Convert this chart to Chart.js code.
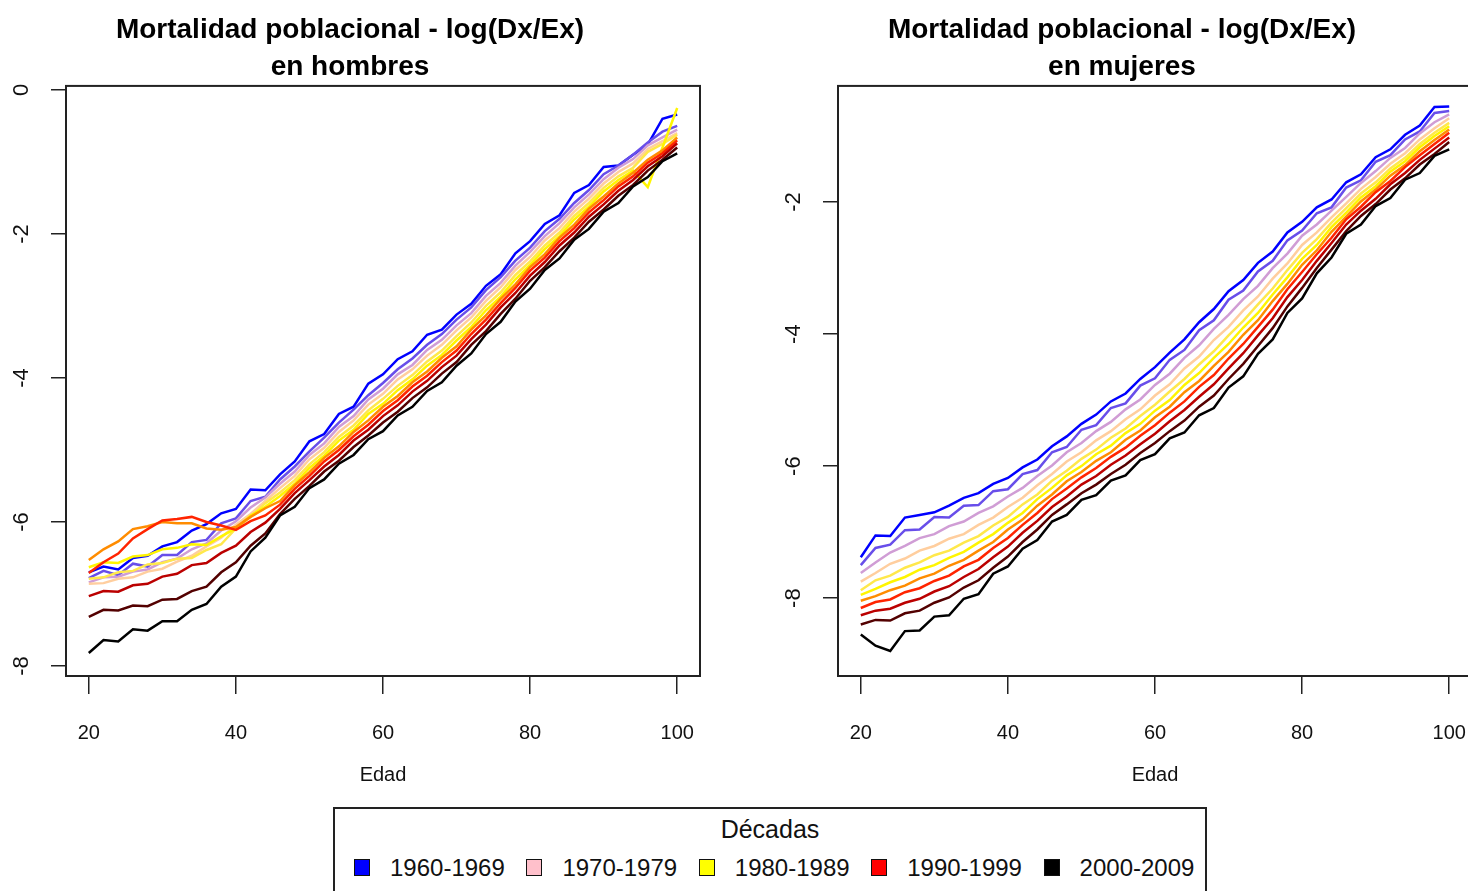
<!DOCTYPE html>
<html>
<head>
<meta charset="utf-8">
<script src="https://cdn.jsdelivr.net/npm/chart.js"></script>
<style>
  body { margin: 0; width: 1468px; height: 891px; overflow: hidden; background: #fff; position: relative; }
  #hombres { position: absolute; left: 0; top: 0; }
  #mujeres { position: absolute; left: 772px; top: 0; }
  #leyenda {
    position: absolute; left: 333px; top: 807px; width: 870px; height: 110px;
    border: 2px solid #222; font-family: "Liberation Sans", Arial, sans-serif; color: #111;
  }
  #leyenda .titulo { position: absolute; left: 0; width: 100%; top: 6px; text-align: center; font-size: 25px; }
  #leyenda .item { position: absolute; top: 44px; font-size: 24px; line-height: 30px; }
  #leyenda .caja { position: absolute; left: 0; top: 6px; width: 14px; height: 15px; border: 1px solid #111; }
  #leyenda .txt { position: absolute; left: 36px; top: 0; white-space: nowrap; }
</style>
</head>
<body>
<canvas id="hombres" width="764" height="800"></canvas>
<canvas id="mujeres" width="766" height="800"></canvas>
<div id="leyenda"></div>
<script>
const edades = [20,22,24,26,28,30,32,34,36,38,40,42,44,46,48,50,52,54,56,58,60,62,64,66,68,70,72,74,76,78,80,82,84,86,88,90,92,94,96,98,100];
const anios = [1960,1965,1970,1975,1980,1985,1990,1995,2000,2005,2009];
const coloresLinea = ['#0000FF','#684EEA','#D09DD5','#FFCE9E','#FFE84B','#FFF500','#FF8C00','#FF2400','#BB0000','#530000','#000000'];
const decadas = ['1960-1969','1970-1979','1980-1989','1990-1999','2000-2009'];
const coloresDecada = ['#0000FF','#FFC0CB','#FFFF00','#FF0000','#000000'];
const ticksEdad = [20,40,60,80,100];
const ticksHombres = [0,-2,-4,-6,-8];
const ticksMujeres = [-2,-4,-6,-8];

// log(Dx/Ex), hombres
const h1960 = [-6.70,-6.62,-6.66,-6.50,-6.47,-6.34,-6.28,-6.12,-6.03,-5.88,-5.82,-5.55,-5.56,-5.34,-5.16,-4.88,-4.78,-4.50,-4.40,-4.08,-3.95,-3.74,-3.63,-3.40,-3.33,-3.12,-2.97,-2.72,-2.56,-2.27,-2.10,-1.86,-1.74,-1.43,-1.32,-1.07,-1.05,-0.90,-0.76,-0.40,-0.34];
const h1965 = [-6.78,-6.68,-6.74,-6.58,-6.62,-6.46,-6.46,-6.28,-6.25,-6.02,-5.95,-5.71,-5.65,-5.41,-5.23,-5.02,-4.83,-4.62,-4.44,-4.24,-4.07,-3.88,-3.73,-3.54,-3.39,-3.19,-3.02,-2.78,-2.60,-2.37,-2.19,-1.96,-1.79,-1.57,-1.39,-1.17,-1.05,-0.90,-0.73,-0.58,-0.50];
const h1970 = [-6.84,-6.77,-6.76,-6.69,-6.66,-6.56,-6.51,-6.38,-6.30,-6.12,-5.99,-5.80,-5.66,-5.47,-5.30,-5.07,-4.91,-4.68,-4.53,-4.30,-4.15,-3.95,-3.82,-3.61,-3.47,-3.27,-3.10,-2.86,-2.68,-2.44,-2.25,-2.03,-1.85,-1.63,-1.45,-1.24,-1.08,-0.96,-0.77,-0.66,-0.55];
const h1975 = [-6.86,-6.85,-6.79,-6.77,-6.69,-6.65,-6.55,-6.47,-6.34,-6.22,-6.04,-5.89,-5.71,-5.53,-5.36,-5.13,-4.97,-4.75,-4.59,-4.37,-4.22,-4.02,-3.88,-3.69,-3.54,-3.34,-3.16,-2.93,-2.74,-2.50,-2.32,-2.09,-1.92,-1.69,-1.51,-1.30,-1.14,-1.02,-0.82,-0.71,-0.60];
const h1980 = [-6.79,-6.77,-6.70,-6.68,-6.59,-6.57,-6.51,-6.50,-6.39,-6.31,-6.09,-5.93,-5.74,-5.59,-5.42,-5.20,-5.03,-4.82,-4.66,-4.45,-4.29,-4.11,-3.96,-3.77,-3.62,-3.42,-3.23,-3.00,-2.81,-2.57,-2.38,-2.16,-1.98,-1.75,-1.57,-1.36,-1.20,-1.08,-0.86,-0.75,-0.62];
const h1985 = [-6.63,-6.56,-6.57,-6.48,-6.46,-6.38,-6.36,-6.31,-6.32,-6.20,-6.09,-5.91,-5.79,-5.64,-5.47,-5.25,-5.08,-4.87,-4.72,-4.50,-4.36,-4.17,-4.02,-3.83,-3.68,-3.48,-3.29,-3.06,-2.87,-2.63,-2.43,-2.21,-2.03,-1.80,-1.62,-1.41,-1.25,-1.12,-1.35,-0.80,-0.25];
const h1990 = [-6.53,-6.38,-6.27,-6.10,-6.06,-6.00,-6.02,-6.02,-6.09,-6.11,-6.07,-5.93,-5.81,-5.71,-5.49,-5.31,-5.11,-4.95,-4.75,-4.59,-4.40,-4.25,-4.06,-3.91,-3.72,-3.56,-3.33,-3.13,-2.90,-2.70,-2.46,-2.28,-2.05,-1.87,-1.65,-1.48,-1.30,-1.15,-0.97,-0.84,-0.66];
const h1995 = [-6.71,-6.56,-6.44,-6.23,-6.10,-5.98,-5.96,-5.93,-6.00,-6.05,-6.11,-5.99,-5.91,-5.76,-5.54,-5.36,-5.16,-5.00,-4.81,-4.65,-4.46,-4.31,-4.12,-3.97,-3.78,-3.62,-3.39,-3.19,-2.96,-2.75,-2.51,-2.33,-2.10,-1.92,-1.70,-1.53,-1.34,-1.20,-1.01,-0.88,-0.70];
const h2000 = [-7.03,-6.96,-6.97,-6.88,-6.86,-6.76,-6.72,-6.60,-6.57,-6.43,-6.33,-6.14,-6.01,-5.82,-5.60,-5.42,-5.23,-5.07,-4.87,-4.72,-4.53,-4.38,-4.19,-4.04,-3.85,-3.69,-3.46,-3.26,-3.02,-2.82,-2.58,-2.39,-2.16,-1.98,-1.76,-1.59,-1.40,-1.25,-1.06,-0.92,-0.74];
const h2005 = [-7.32,-7.22,-7.23,-7.16,-7.17,-7.08,-7.07,-6.96,-6.90,-6.70,-6.56,-6.33,-6.16,-5.89,-5.68,-5.50,-5.30,-5.15,-4.96,-4.80,-4.62,-4.47,-4.28,-4.13,-3.94,-3.78,-3.54,-3.35,-3.11,-2.90,-2.65,-2.46,-2.24,-2.05,-1.83,-1.66,-1.47,-1.32,-1.12,-0.97,-0.80];
const h2009 = [-7.82,-7.64,-7.66,-7.49,-7.51,-7.38,-7.38,-7.22,-7.14,-6.90,-6.76,-6.41,-6.22,-5.91,-5.79,-5.53,-5.41,-5.19,-5.07,-4.85,-4.74,-4.52,-4.40,-4.18,-4.06,-3.83,-3.66,-3.39,-3.22,-2.94,-2.76,-2.50,-2.34,-2.08,-1.93,-1.69,-1.57,-1.34,-1.21,-0.99,-0.88];

// log(Dx/Ex), mujeres
const m1960 = [-7.38,-7.05,-7.06,-6.78,-6.74,-6.70,-6.60,-6.48,-6.41,-6.27,-6.18,-6.02,-5.90,-5.70,-5.55,-5.36,-5.22,-5.02,-4.90,-4.68,-4.50,-4.28,-4.08,-3.82,-3.62,-3.35,-3.18,-2.92,-2.75,-2.46,-2.30,-2.08,-1.96,-1.70,-1.58,-1.32,-1.20,-0.98,-0.84,-0.56,-0.55];
const m1965 = [-7.50,-7.24,-7.19,-6.97,-6.96,-6.77,-6.78,-6.60,-6.59,-6.38,-6.35,-6.12,-6.06,-5.79,-5.71,-5.45,-5.38,-5.12,-5.05,-4.78,-4.67,-4.39,-4.24,-3.94,-3.79,-3.48,-3.34,-3.05,-2.89,-2.58,-2.43,-2.17,-2.08,-1.78,-1.67,-1.39,-1.29,-1.05,-0.93,-0.65,-0.62];
const m1970 = [-7.62,-7.46,-7.31,-7.21,-7.09,-7.03,-6.91,-6.84,-6.71,-6.61,-6.46,-6.33,-6.15,-5.99,-5.79,-5.65,-5.47,-5.33,-5.14,-4.99,-4.77,-4.60,-4.36,-4.17,-3.92,-3.71,-3.47,-3.27,-3.00,-2.78,-2.51,-2.34,-2.13,-1.92,-1.71,-1.53,-1.33,-1.18,-0.96,-0.79,-0.67];
const m1975 = [-7.75,-7.62,-7.48,-7.40,-7.28,-7.21,-7.10,-7.03,-6.89,-6.78,-6.62,-6.48,-6.29,-6.12,-5.93,-5.79,-5.61,-5.47,-5.29,-5.14,-4.93,-4.76,-4.52,-4.34,-4.09,-3.89,-3.64,-3.43,-3.16,-2.93,-2.65,-2.46,-2.23,-2.02,-1.80,-1.62,-1.42,-1.26,-1.05,-0.88,-0.73];
const m1980 = [-7.88,-7.73,-7.66,-7.54,-7.46,-7.35,-7.28,-7.16,-7.06,-6.90,-6.77,-6.58,-6.43,-6.22,-6.07,-5.89,-5.75,-5.57,-5.43,-5.24,-5.07,-4.87,-4.68,-4.46,-4.26,-4.02,-3.80,-3.55,-3.31,-3.03,-2.77,-2.56,-2.31,-2.09,-1.87,-1.70,-1.49,-1.33,-1.12,-0.95,-0.80];
const m1985 = [-7.95,-7.86,-7.76,-7.68,-7.57,-7.50,-7.39,-7.30,-7.16,-7.03,-6.86,-6.71,-6.50,-6.33,-6.14,-6.00,-5.82,-5.69,-5.50,-5.36,-5.16,-5.00,-4.77,-4.59,-4.36,-4.15,-3.90,-3.68,-3.40,-3.14,-2.86,-2.65,-2.38,-2.16,-1.93,-1.76,-1.54,-1.38,-1.17,-1.00,-0.85];
const m1990 = [-8.04,-7.97,-7.88,-7.81,-7.70,-7.63,-7.51,-7.42,-7.28,-7.15,-6.96,-6.81,-6.60,-6.43,-6.23,-6.09,-5.92,-5.79,-5.60,-5.46,-5.26,-5.10,-4.88,-4.71,-4.48,-4.27,-4.01,-3.79,-3.50,-3.24,-2.95,-2.73,-2.45,-2.22,-1.99,-1.81,-1.60,-1.44,-1.23,-1.06,-0.90];
const m1995 = [-8.15,-8.06,-8.02,-7.91,-7.85,-7.74,-7.66,-7.52,-7.42,-7.24,-7.09,-6.89,-6.71,-6.50,-6.34,-6.17,-6.03,-5.86,-5.72,-5.54,-5.38,-5.19,-5.02,-4.80,-4.62,-4.37,-4.15,-3.89,-3.63,-3.32,-3.06,-2.79,-2.54,-2.26,-2.07,-1.85,-1.68,-1.47,-1.29,-1.12,-0.95];
const m2000 = [-8.26,-8.19,-8.16,-8.07,-8.01,-7.90,-7.82,-7.68,-7.56,-7.38,-7.22,-7.01,-6.83,-6.62,-6.46,-6.28,-6.15,-5.98,-5.84,-5.67,-5.51,-5.32,-5.15,-4.95,-4.76,-4.52,-4.29,-4.02,-3.76,-3.44,-3.18,-2.89,-2.62,-2.34,-2.13,-1.95,-1.73,-1.56,-1.36,-1.19,-1.02];
const m2005 = [-8.40,-8.33,-8.34,-8.23,-8.19,-8.07,-7.99,-7.84,-7.73,-7.54,-7.37,-7.15,-6.96,-6.74,-6.58,-6.41,-6.28,-6.12,-5.98,-5.80,-5.65,-5.47,-5.31,-5.10,-4.93,-4.68,-4.45,-4.18,-3.91,-3.58,-3.30,-3.00,-2.72,-2.44,-2.21,-2.03,-1.81,-1.64,-1.43,-1.27,-1.09];
const m2009 = [-8.55,-8.72,-8.80,-8.50,-8.49,-8.28,-8.26,-8.01,-7.94,-7.63,-7.52,-7.25,-7.12,-6.84,-6.74,-6.51,-6.44,-6.22,-6.14,-5.91,-5.82,-5.58,-5.49,-5.23,-5.12,-4.81,-4.64,-4.30,-4.08,-3.68,-3.46,-3.08,-2.84,-2.48,-2.34,-2.06,-1.94,-1.66,-1.56,-1.30,-1.20];

const hombres = [h1960, h1965, h1970, h1975, h1980, h1985, h1990, h1995, h2000, h2005, h2009];
const mujeres = [m1960, m1965, m1970, m1975, m1980, m1985, m1990, m1995, m2000, m2005, m2009];

const fuente = '"Liberation Sans", Arial, sans-serif';

// caja alrededor del panel, como box() en R
const cajaPlugin = {
    id: 'caja',
    afterDraw(chart) {
        const { ctx, chartArea: a } = chart;
        ctx.save();
        ctx.strokeStyle = '#222';
        ctx.lineWidth = 2;
        ctx.strokeRect(a.left, a.top, a.right - a.left, a.bottom - a.top);
        ctx.restore();
    }
};

const crearPanel = (id, subtitulo, series, yMin, yMax, yTicks, padDer) => {
    return new Chart(document.getElementById(id), {
        type: 'line',
        data: {
            datasets: series.map((vals, i) => ({
                label: String(anios[i]),
                data: vals.map((v, j) => ({ x: edades[j], y: v })),
                borderColor: coloresLinea[i],
                borderWidth: 2.5,
                pointRadius: 0,
                tension: 0,
                fill: false,
                order: series.length - i
            }))
        },
        options: {
            responsive: false,
            animation: false,
            layout: { padding: { left: 0, right: padDer, top: 0, bottom: 0 } },
            scales: {
                x: {
                    type: 'linear',
                    min: 16.9,
                    max: 103.1,
                    afterBuildTicks: s => { s.ticks = ticksEdad.map(v => ({ value: v })); },
                    afterFit: s => { s.height = 124; },
                    grid: { drawOnChartArea: false, tickLength: 18, color: '#222', lineWidth: 1.5 },
                    border: { display: true, color: '#222', width: 2 },
                    ticks: { font: { family: fuente, size: 20 }, color: '#111', padding: 27, maxRotation: 0 },
                    title: { display: true, text: 'Edad', color: '#111', font: { family: fuente, size: 20 }, padding: { top: 0, bottom: 13 } }
                },
                y: {
                    min: yMin,
                    max: yMax,
                    afterBuildTicks: s => { s.ticks = yTicks.map(v => ({ value: v })); },
                    afterFit: s => { s.width = 66; },
                    grid: { drawOnChartArea: false, tickLength: 15, color: '#222', lineWidth: 1.5 },
                    border: { display: true, color: '#222', width: 2 },
                    ticks: { font: { family: fuente, size: 22 }, color: '#111', padding: 19, minRotation: 90, maxRotation: 90, crossAlign: 'center' }
                }
            },
            plugins: {
                legend: { display: false },
                tooltip: { enabled: false },
                title: {
                    display: true,
                    text: ['Mortalidad poblacional - log(Dx/Ex)', subtitulo],
                    color: '#000',
                    font: { family: fuente, size: 28, weight: 'bold', lineHeight: 1.32 },
                    padding: { top: 12, bottom: 0 }
                }
            }
        },
        plugins: [cajaPlugin]
    });
};

crearPanel('hombres', 'en hombres', hombres, -8.14, 0.056, ticksHombres, 64);
crearPanel('mujeres', 'en mujeres', mujeres, -9.18, -0.24, ticksMujeres, 66);

// leyenda común de décadas
const leyenda = document.getElementById('leyenda');
const titulo = document.createElement('div');
titulo.className = 'titulo';
titulo.textContent = 'Décadas';
leyenda.appendChild(titulo);
decadas.forEach((d, i) => {
    const item = document.createElement('div');
    item.className = 'item';
    item.style.left = (19 + i * 172.4) + 'px';
    item.innerHTML = '<span class="caja" style="background:' + coloresDecada[i] + '"></span><span class="txt">' + d + '</span>';
    leyenda.appendChild(item);
});
</script>
</body>
</html>
